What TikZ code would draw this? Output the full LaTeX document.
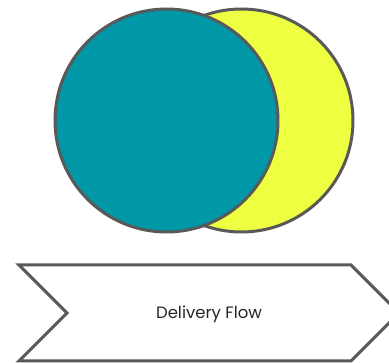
\documentclass[tikz,border=0pt]{standalone}
\usepackage{fontspec}
\setmainfont{Poppins}

\begin{document}
\begin{tikzpicture}[
    x=1pt, y=-1pt,
    ring/.style={
        circle, draw=colEdge, line width=3pt, minimum size=223pt, inner sep=0pt
    },
    flow/.style={
        draw=colEdge, line width=3pt, fill=white, line join=miter
    },
    label/.style={font=\fontsize{16.5}{18}\selectfont, text=colText, align=center}
]

% ============================
% COLOR DEFINITIONS
% ============================
\definecolor{colTeal}{HTML}{0097A7}    % teal
\definecolor{colLime}{HTML}{EEFF41}    % yellow lime
\definecolor{colEdge}{HTML}{595959}    % dark grey border
\definecolor{colText}{HTML}{262626}    % text

\useasboundingbox (0,0) rectangle (389,363);

% ============================
% TOP: two overlapping circles
% ============================
\node[ring, fill=colLime] (lime) at (241.5,120.5) {};
\node[ring, fill=colTeal] (teal) at (166.5,120.5) {};

% ============================
% BOTTOM: chevron
% ============================
\coordinate (tl) at (19,265);
\coordinate (tr) at (351,265);
\coordinate (tip) at (399,313);
\coordinate (br) at (351,361);
\coordinate (bl) at (19,361);
\coordinate (notch) at (67,313);
\draw[flow] (tl) -- (tr) -- (tip) -- (br) -- (bl) -- (notch) -- cycle;
\node[label] (flowtext) at (209,314) {Delivery Flow};

\end{tikzpicture}
\end{document}
